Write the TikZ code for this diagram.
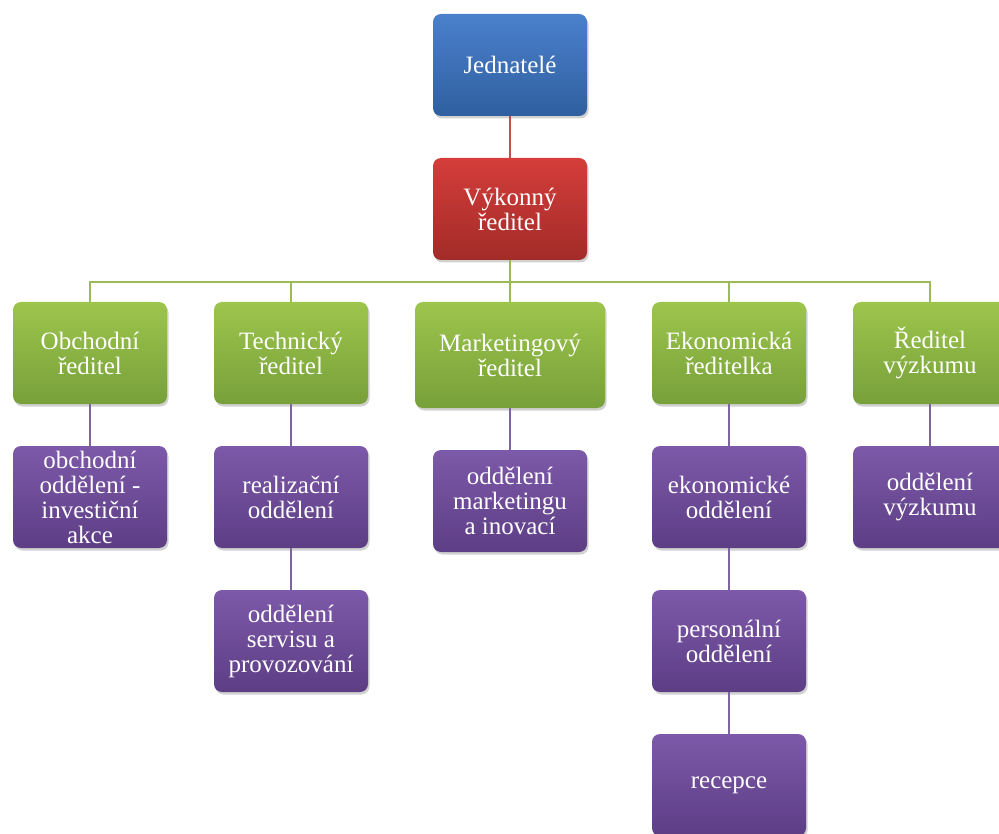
\documentclass[tikz,border=0pt]{standalone}
\usepackage{fontspec}
\setmainfont{Liberation Serif}
\usetikzlibrary{shadows}
\definecolor{bluetop}{HTML}{4A80CC}
\definecolor{bluebot}{HTML}{2F5F9F}
\definecolor{redtop}{HTML}{D43D3A}
\definecolor{redbot}{HTML}{A22B28}
\definecolor{greentop}{HTML}{9DC54C}
\definecolor{greenbot}{HTML}{77A03A}
\definecolor{purptop}{HTML}{7D59A9}
\definecolor{purpbot}{HTML}{5D3E85}
\definecolor{redline}{HTML}{C0504D}
\definecolor{greenline}{HTML}{9BBB59}
\definecolor{purpline}{HTML}{8064A2}
\tikzset{
  box/.style={rounded corners=8pt, minimum width=154pt, minimum height=102pt,
    inner sep=0pt, align=center, text=white,
    font=\fontsize{25}{25}\selectfont,
    drop shadow={shadow xshift=1.5pt, shadow yshift=-2.5pt, opacity=0.3, fill=black!60}},
  bluebox/.style={box, top color=bluetop, bottom color=bluebot},
  redbox/.style={box, top color=redtop, bottom color=redbot},
  greenbox/.style={box, top color=greentop, bottom color=greenbot},
  purpbox/.style={box, top color=purptop, bottom color=purpbot},
  rline/.style={draw=redline, line width=1.3pt},
  gline/.style={draw=greenline, line width=1.3pt},
  pline/.style={draw=purpline, line width=1.3pt},
}
\begin{document}
\begin{tikzpicture}[x=1pt,y=1pt]
\useasboundingbox (0,0) rectangle (999,-834);
\clip (0,0) rectangle (999,-834);
\coordinate (bus) at (510,-282);
\node[bluebox] (j) at (510,-65) {Jednatelé};
\node[redbox] (v) at (510,-209) {Výkonný\\ředitel};
\node[greenbox] (g1) at (90,-353) {Obchodní\\ředitel};
\node[greenbox] (g2) at (291,-353) {Technický\\ředitel};
\node[greenbox, minimum width=190pt, minimum height=106pt] (g3) at (510,-355) {Marketingový\\ředitel};
\node[greenbox] (g4) at (729,-353) {Ekonomická\\ředitelka};
\node[greenbox] (g5) at (930,-353) {Ředitel\\výzkumu};
\node[purpbox] (p1) at (90,-497) {obchodní\\oddělení -\\investiční\\akce};
\node[purpbox] (p2) at (291,-497) {realizační\\oddělení};
\node[purpbox] (p3) at (291,-641) {oddělení\\servisu a\\provozování};
\node[purpbox] (p4) at (510,-501) {oddělení\\marketingu\\a inovací};
\node[purpbox] (p5) at (729,-497) {ekonomické\\oddělení};
\node[purpbox] (p6) at (729,-641) {personální\\oddělení};
\node[purpbox] (p7) at (729,-785) {recepce};
\node[purpbox] (p8) at (930,-497) {oddělení\\výzkumu};
\draw[rline] (j.south) -- (v.north);
\draw[gline] (v.south) -- (bus);
\draw[gline] (g1.north) |- (bus) -| (g5.north);
\draw[gline] (g2.north) -- (g2.north |- bus);
\draw[gline] (g3.north) -- (g3.north |- bus);
\draw[gline] (g4.north) -- (g4.north |- bus);
\draw[pline] (g1.south) -- (p1.north);
\draw[pline] (g2.south) -- (p2.north);
\draw[pline] (p2.south) -- (p3.north);
\draw[pline] (g3.south) -- (p4.north);
\draw[pline] (g4.south) -- (p5.north);
\draw[pline] (p5.south) -- (p6.north);
\draw[pline] (p6.south) -- (p7.north);
\draw[pline] (g5.south) -- (p8.north);
\end{tikzpicture}
\end{document}
